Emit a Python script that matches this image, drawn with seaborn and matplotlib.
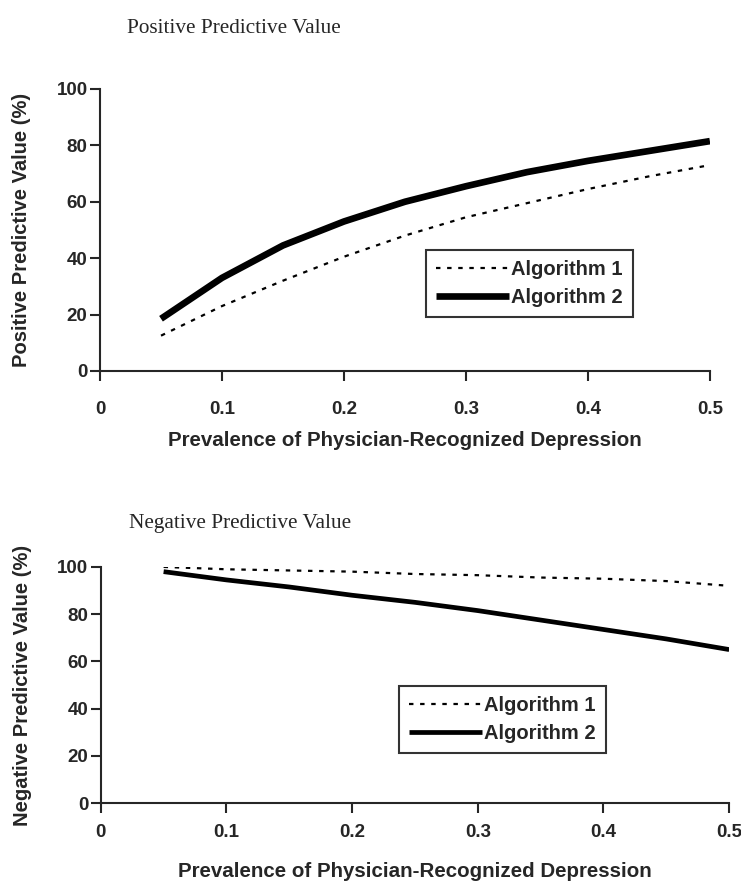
import numpy as np
import pandas as pd
import matplotlib
matplotlib.use('Agg')
import matplotlib.pyplot as plt
import seaborn as sns

sns.set_style('ticks')
plt.rcParams['font.family'] = ['Liberation Sans', 'DejaVu Sans']

# data
prevalence = [0.05, 0.10, 0.15, 0.20, 0.25, 0.30, 0.35, 0.40, 0.45, 0.50]
ppv_alg1 = [12.5, 23, 32, 40.5, 48, 54.5, 59.5, 64.5, 69, 73]
ppv_alg2 = [18.5, 33, 44.5, 53, 60, 65.5, 70.5, 74.5, 78, 81.5]
npv_alg1 = [100, 99, 98.5, 98, 97, 96.5, 95.5, 95, 94, 92]
npv_alg2 = [98, 94.5, 91.5, 88, 85, 81.5, 77.5, 73.5, 69.5, 65]
xticks = [0, 0.1, 0.2, 0.3, 0.4, 0.5]
xticklabels = ['0', '0.1', '0.2', '0.3', '0.4', '0.5']
yticks = [0, 20, 40, 60, 80, 100]
yticklabels = ['0', '20', '40', '60', '80', '100']

fig = plt.figure(figsize=(7.41, 8.81), dpi=100)
ax1 = fig.add_axes([0.135, 0.579, 0.823, 0.320])
ax2 = fig.add_axes([0.136, 0.0885, 0.848, 0.268])


def draw_panel(ax, a1, a2, ylabel, title, lw2, legend_box, xpad, lpad, title_y):
    df = pd.DataFrame({'x': prevalence, 'a1': a1, 'a2': a2})
    sns.lineplot(data=df, x='x', y='a1', ax=ax, color='black', lw=1.6,
                 linestyle=(0, (2, 3)), label='Algorithm 1')
    sns.lineplot(data=df, x='x', y='a2', ax=ax, color='black', lw=lw2,
                 solid_capstyle='butt', label='Algorithm 2')
    ax.set_xlim(0, 0.5)
    ax.set_ylim(0, 100)
    ax.set_xticks(xticks)
    ax.set_xticklabels(xticklabels, fontweight='bold', fontsize=13.5)
    ax.set_yticks(yticks)
    ax.set_yticklabels(yticklabels, fontweight='bold', fontsize=13.5)
    ax.tick_params(axis='x', direction='out', length=7, width=1.5, pad=xpad)
    ax.tick_params(axis='y', direction='out', length=7, width=1.5, pad=2)
    sns.despine(ax=ax)
    ax.spines['left'].set_linewidth(1.5)
    ax.spines['bottom'].set_linewidth(1.5)
    ax.set_xlabel('Prevalence of Physician-Recognized Depression',
                  fontsize=14.8, fontweight='bold', labelpad=lpad)
    ax.set_ylabel(ylabel, fontsize=14.5, fontweight='bold', labelpad=18)
    ax.set_title(title, fontsize=15.3, family=['Liberation Serif'], loc='left',
                 x=0.045, y=title_y)
    leg = ax.legend(loc='lower left', bbox_to_anchor=legend_box, frameon=True,
                    fancybox=False, edgecolor='black', handlelength=3.6,
                    handletextpad=0.1, borderpad=0.5, labelspacing=0.45,
                    borderaxespad=0,
                    prop={'weight': 'bold', 'size': 14.5})
    leg.get_frame().set_linewidth(1.5)


draw_panel(ax1, ppv_alg1, ppv_alg2, 'Positive Predictive Value (%)',
           'Positive Predictive Value', 4.8, (0.535, 0.19), 15, 9, 1.17)
draw_panel(ax2, npv_alg1, npv_alg2, 'Negative Predictive Value (%)',
           'Negative Predictive Value', 3.4, (0.475, 0.21), 8, 15, 1.13)

fig.savefig('out.png', dpi=100)
